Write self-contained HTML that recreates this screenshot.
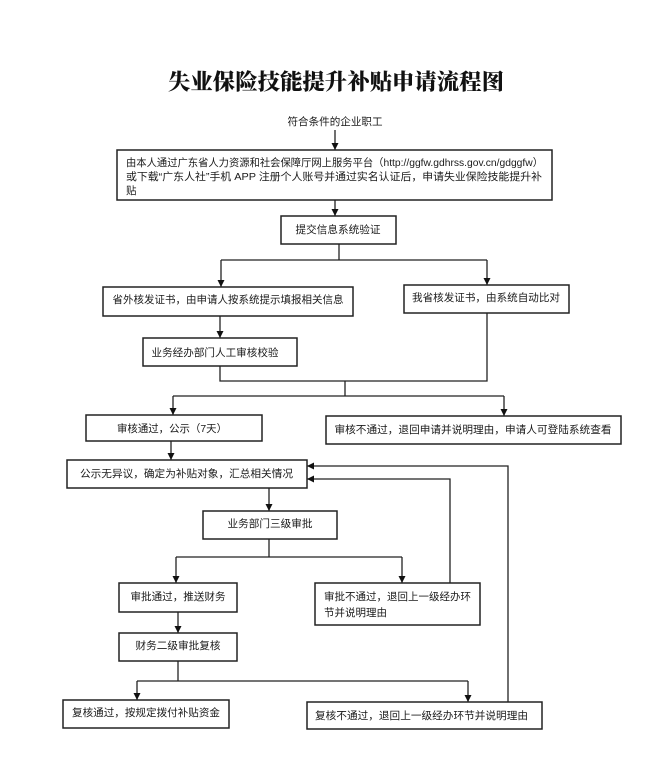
<!DOCTYPE html>
<html>
<head>
<meta charset="utf-8">
<style>
html,body{margin:0;padding:0;background:#fff;}
svg{display:block;}
.t{font-family:"Liberation Sans","Noto Sans CJK SC",sans-serif;font-size:10.5px;fill:#1a1a1a;dominant-baseline:central;}
.b{fill:#fff;stroke:#222;stroke-width:1.5;}
.l{fill:none;stroke:#222;stroke-width:1.3;}
</style>
</head>
<body>
<svg width="671" height="757" viewBox="0 0 671 757" xmlns="http://www.w3.org/2000/svg">
<defs>
<marker id="a" viewBox="0 0 8 8" refX="8" refY="4" markerWidth="7" markerHeight="7" markerUnits="userSpaceOnUse" orient="auto">
<path d="M0,0 L8,4 L0,8 z" fill="#111"/>
</marker>
</defs>
<rect width="671" height="757" fill="#fff"/>

<!-- Title -->
<text x="336" y="81" text-anchor="middle" textLength="336" lengthAdjust="spacingAndGlyphs" style="font-family:'Noto Serif CJK SC','Noto Sans CJK SC',serif;font-size:22px;font-weight:900;fill:#111;dominant-baseline:central;">失业保险技能提升补贴申请流程图</text>

<text class="t" x="335" y="122" text-anchor="middle" textLength="95" lengthAdjust="spacingAndGlyphs">符合条件的企业职工</text>

<!-- connectors -->
<line class="l" x1="335" y1="130" x2="335" y2="150" marker-end="url(#a)"/>
<line class="l" x1="335" y1="200" x2="335" y2="216" marker-end="url(#a)"/>
<polyline class="l" points="339,244 339,260"/>
<polyline class="l" points="221,260 487,260"/>
<line class="l" x1="221" y1="260" x2="221" y2="287" marker-end="url(#a)"/>
<line class="l" x1="487" y1="260" x2="487" y2="285" marker-end="url(#a)"/>
<line class="l" x1="220" y1="316" x2="220" y2="338" marker-end="url(#a)"/>
<polyline class="l" points="220,366 220,381 487,381 487,313"/>
<polyline class="l" points="345,381 345,396"/>
<polyline class="l" points="173,396 504,396"/>
<line class="l" x1="173" y1="396" x2="173" y2="415" marker-end="url(#a)"/>
<line class="l" x1="504" y1="396" x2="504" y2="416" marker-end="url(#a)"/>
<line class="l" x1="171" y1="441" x2="171" y2="460" marker-end="url(#a)"/>
<line class="l" x1="269" y1="488" x2="269" y2="511" marker-end="url(#a)"/>
<polyline class="l" points="269,539 269,557"/>
<polyline class="l" points="176,557 402,557"/>
<line class="l" x1="176" y1="557" x2="176" y2="583" marker-end="url(#a)"/>
<line class="l" x1="402" y1="557" x2="402" y2="583" marker-end="url(#a)"/>
<line class="l" x1="178" y1="612" x2="178" y2="633" marker-end="url(#a)"/>
<polyline class="l" points="178,661 178,681"/>
<polyline class="l" points="137,681 468,681"/>
<line class="l" x1="137" y1="681" x2="137" y2="700" marker-end="url(#a)"/>
<line class="l" x1="468" y1="681" x2="468" y2="702" marker-end="url(#a)"/>
<polyline class="l" points="450,583 450,479 307,479" marker-end="url(#a)"/>
<polyline class="l" points="508,702 508,466 307,466" marker-end="url(#a)"/>

<!-- Box1 -->
<rect class="b" x="117" y="150" width="435" height="50"/>
<text class="t" x="126" y="163" textLength="417" lengthAdjust="spacingAndGlyphs">由本人通过广东省人力资源和社会保障厅网上服务平台（http://ggfw.gdhrss.gov.cn/gdggfw）</text>
<text class="t" x="126" y="177" textLength="416" lengthAdjust="spacingAndGlyphs">或下载“广东人社”手机 APP 注册个人账号并通过实名认证后，申请失业保险技能提升补</text>
<text class="t" x="126" y="191">贴</text>

<!-- Box2 -->
<rect class="b" x="281" y="216" width="115" height="28"/>
<text class="t" x="338" y="230" text-anchor="middle" textLength="85" lengthAdjust="spacingAndGlyphs">提交信息系统验证</text>

<!-- Box3 -->
<rect class="b" x="103" y="287" width="250" height="29"/>
<text class="t" x="228" y="300" text-anchor="middle" textLength="231" lengthAdjust="spacingAndGlyphs">省外核发证书，由申请人按系统提示填报相关信息</text>

<!-- Box4 -->
<rect class="b" x="404" y="285" width="165" height="28"/>
<text class="t" x="486" y="298" text-anchor="middle" textLength="148" lengthAdjust="spacingAndGlyphs">我省核发证书，由系统自动比对</text>

<!-- Box5 -->
<rect class="b" x="143" y="338" width="154" height="28"/>
<text class="t" x="215" y="353" text-anchor="middle" textLength="127" lengthAdjust="spacingAndGlyphs">业务经办部门人工审核校验</text>

<!-- Box6 -->
<rect class="b" x="86" y="415" width="176" height="26"/>
<text class="t" x="172" y="429" text-anchor="middle" textLength="110" lengthAdjust="spacingAndGlyphs">审核通过，公示（7天）</text>

<!-- Box7 -->
<rect class="b" x="326" y="416" width="295" height="28"/>
<text class="t" x="473" y="430" text-anchor="middle" textLength="277" lengthAdjust="spacingAndGlyphs">审核不通过，退回申请并说明理由，申请人可登陆系统查看</text>

<!-- Box8 -->
<rect class="b" x="67" y="460" width="240" height="28"/>
<text class="t" x="80" y="474" textLength="213" lengthAdjust="spacingAndGlyphs">公示无异议，确定为补贴对象，汇总相关情况</text>

<!-- Box9 -->
<rect class="b" x="203" y="511" width="134" height="28"/>
<text class="t" x="270" y="524" text-anchor="middle" textLength="85" lengthAdjust="spacingAndGlyphs">业务部门三级审批</text>

<!-- Box10 -->
<rect class="b" x="119" y="583" width="118" height="29"/>
<text class="t" x="178" y="597" text-anchor="middle" textLength="95" lengthAdjust="spacingAndGlyphs">审批通过，推送财务</text>

<!-- Box11 -->
<rect class="b" x="315" y="583" width="165" height="42"/>
<text class="t" x="324" y="597" textLength="147" lengthAdjust="spacingAndGlyphs">审批不通过，退回上一级经办环</text>
<text class="t" x="324" y="613" textLength="63" lengthAdjust="spacingAndGlyphs">节并说明理由</text>

<!-- Box12 -->
<rect class="b" x="119" y="633" width="118" height="28"/>
<text class="t" x="178" y="646" text-anchor="middle" textLength="85" lengthAdjust="spacingAndGlyphs">财务二级审批复核</text>

<!-- Box13 -->
<rect class="b" x="63" y="700" width="166" height="28"/>
<text class="t" x="72" y="713" textLength="148" lengthAdjust="spacingAndGlyphs">复核通过，按规定拨付补贴资金</text>

<!-- Box14 -->
<rect class="b" x="307" y="702" width="235" height="27"/>
<text class="t" x="315" y="716" textLength="213" lengthAdjust="spacingAndGlyphs">复核不通过，退回上一级经办环节并说明理由</text>
</svg>
</body>
</html>
